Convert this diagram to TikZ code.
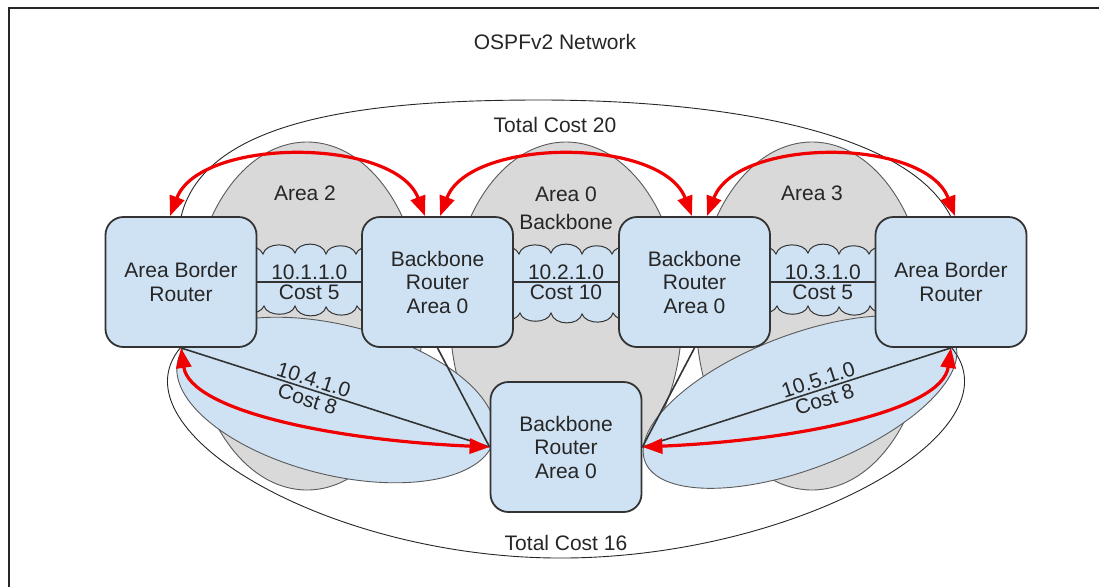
\documentclass[tikz,border=0pt]{standalone}
\usepackage{fontspec}
\setmainfont{Liberation Sans}
\usetikzlibrary{shapes.geometric,arrows.meta,calc}
\definecolor{boxblue}{HTML}{CFE2F3}
\definecolor{areagray}{HTML}{D9D9D9}
\definecolor{boxline}{HTML}{333333}
\definecolor{arealine}{HTML}{5A5A5A}
\definecolor{txt}{HTML}{262626}
\definecolor{ospfred}{HTML}{F00000}
\newcommand\dfont{\fontsize{21}{23.5}\selectfont}
\newcommand\cloudshape[3]{%
  \filldraw[cloudst, shift={(#1,0)}]
   (-76,#2+3)
   .. controls (-73,#2-9) and (-52,#2-9) .. (-47,#2+2)
   .. controls (-44,#2-10) and (-19,#2-10) .. (-15,#2+1)
   .. controls (-12,#2-11) and (13,#2-11) .. (16,#2+2)
   .. controls (19,#2-9) and (42,#2-9) .. (46,#2+2)
   .. controls (49,#2-8) and (73,#2-8) .. (76,#2+3)
   -- (76,#3-3)
   .. controls (73,#3+8) and (52,#3+8) .. (47,#3-2)
   .. controls (44,#3+10) and (20,#3+10) .. (16,#3-1)
   .. controls (13,#3+11) and (-12,#3+11) .. (-15,#3-2)
   .. controls (-18,#3+9) and (-43,#3+9) .. (-46,#3-2)
   .. controls (-50,#3+8) and (-73,#3+8) .. (-76,#3-3)
   -- cycle;}
\begin{document}
\begin{tikzpicture}[x=1pt,y=-1pt,
  router/.style={draw=boxline, line width=1.8pt, fill=boxblue, rounded corners=18pt,
    minimum width=151pt, minimum height=130pt, align=center, inner sep=0pt,
    font=\dfont, text=txt},
  area/.style={ellipse, draw=arealine, line width=0.9pt, fill=areagray, inner sep=0pt,
    minimum width=232pt, minimum height=348pt},
  netell/.style={ellipse, draw=arealine, line width=0.9pt, fill=boxblue, inner sep=0pt},
  cloudst/.style={draw=boxline, line width=1pt, fill=boxblue},
  link/.style={draw=boxline, line width=1.6pt},
  total/.style={draw=black!85, line width=0.9pt},
  ospf/.style={draw=ospfred, line width=3.2pt,
    {Triangle[length=20pt,width=15pt]}-{Triangle[length=20pt,width=15pt]}},
  lbl/.style={font=\dfont, text=txt},
  linklbl/.style={font=\dfont, text=txt, inner sep=2pt}
]
\useasboundingbox (0,0) rectangle (1099,587);
% frame
\draw[line width=2pt, black!85] (1099,8) -- (9,8) -- (9,587);

% areas
\node[area] (area2) at (307,316) {};
\node[area] (area0) at (566,316) {};
\node[area] (area3) at (812,316) {};

% clouds
\cloudshape{310}{252}{308}
\cloudshape{566}{252}{315}
\cloudshape{823}{252}{308}

% point-to-point networks
\node[netell, minimum width=326pt, minimum height=150pt, rotate=-14] (net4) at (336,400) {};
\node[netell, minimum width=332pt, minimum height=134pt, rotate=21] (net5) at (800,402) {};

% router positions (for the total-cost curves drawn beneath them)
\coordinate (abrLn) at (181,217);
\coordinate (abrLs) at (181,347);
\coordinate (abrRn) at (951,217);
\coordinate (abrRs) at (951,347);

% total cost curves
\draw[total] (abrLn) .. controls (205,115) and (380,100) .. (540,100)
  .. controls (700,100) and (905,125) .. (abrRn);
\draw[total] (abrLs) .. controls (110,430) and (330,560) .. (566,558)
  .. controls (802,556) and (1022,430) .. (abrRs);

% routers
\node[router] (abrL) at (181,282) {Area Border\\Router};
\node[router] (bb1) at (437.5,282) {Backbone\\Router\\Area 0};
\node[router] (bb2) at (694.5,282) {Backbone\\Router\\Area 0};
\node[router] (abrR) at (951,282) {Area Border\\Router};
\node[router] (bb3) at (566,447) {Backbone\\Router\\Area 0};

% links
\draw[link] (abrL.east) -- node[midway, above, linklbl] (c1a) {10.1.1.0}
  node[midway, below, linklbl] (c1b) {Cost 5} (bb1.west);
\draw[link] (bb1.east) -- node[midway, above, linklbl] (c2a) {10.2.1.0}
  node[midway, below, linklbl] (c2b) {Cost 10} (bb2.west);
\draw[link] (bb2.east) -- node[midway, above, linklbl] (c3a) {10.3.1.0}
  node[midway, below, linklbl] (c3b) {Cost 5} (abrR.west);
\draw[link] (abrL.south) -- node[pos=0.42, sloped, above, linklbl] (c4a) {10.4.1.0}
  node[pos=0.42, sloped, below, linklbl] (c4b) {Cost 8} (bb3.west);
\draw[link] (bb3.east) -- node[pos=0.58, sloped, above, linklbl] (c5a) {10.5.1.0}
  node[pos=0.58, sloped, below, linklbl] (c5b) {Cost 8} (abrR.south);
\draw[link] (bb1.south) -- (bb3.west);
\draw[link] (bb2.south) -- (bb3.east);

% OSPF adjacencies
\draw[ospf] ([xshift=-11pt]abrL.north) .. controls (200,137) and (395,137) .. ([xshift=-12.5pt]bb1.north);
\draw[ospf] ([xshift=2.5pt]bb1.north) .. controls (470,137) and (662,137) .. ([xshift=-2.5pt]bb2.north);
\draw[ospf] ([xshift=12.5pt]bb2.north) .. controls (737,137) and (925,137) .. ([xshift=4pt]abrR.north);
\draw[ospf] (abrL.south) .. controls (190,410) and (330,440) .. (bb3.west);
\draw[ospf] (abrR.south) .. controls (942,410) and (802,440) .. (bb3.east);

% labels
\node[lbl] (title) at (555,42) {OSPFv2 Network};
\node[lbl] (tc20) at (555,125) {Total Cost 20};
\node[lbl] (tc16) at (566,543) {Total Cost 16};
\node[lbl] (a2l) at (305,193) {Area 2};
\node[lbl, align=center, font=\fontsize{21}{28}\selectfont] (a0l) at (566,208) {Area 0\\Backbone};
\node[lbl] (a3l) at (812,193) {Area 3};
\end{tikzpicture}
\end{document}
